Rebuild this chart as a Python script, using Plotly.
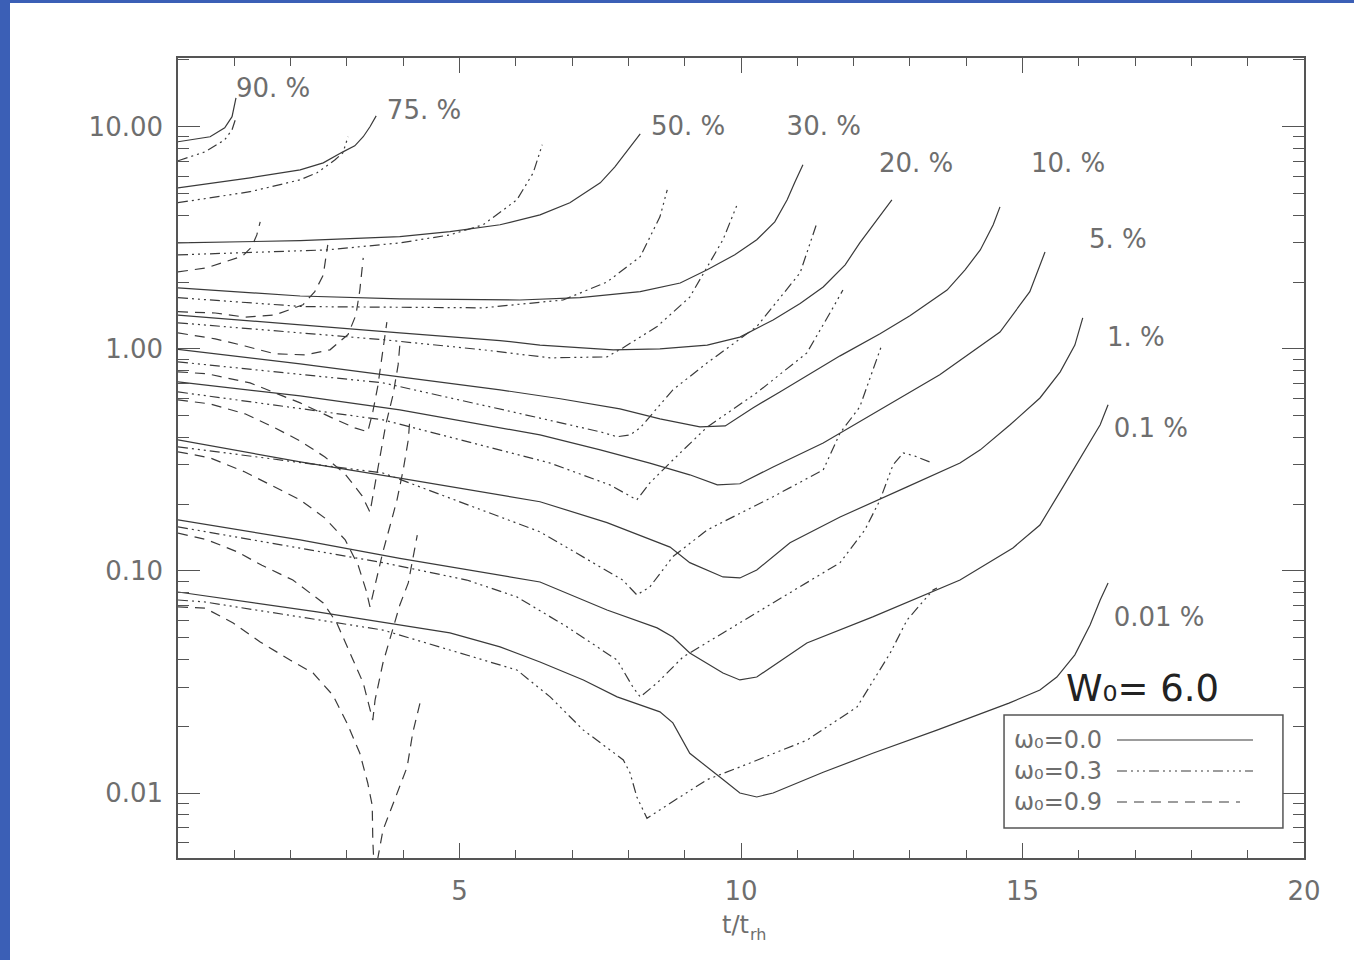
import math
import plotly.graph_objects as go

# ---------------- data: Lagrangian radii vs t/t_rh ----------------
# omega0 = 0.0 (solid)
S90_t = [0, 0.57, 0.83, 0.96, 1.03]
S90_r = [8.56, 9.02, 9.9, 11.1, 13.5]
S75_t = [0, 1.28, 2.17, 2.58, 2.93, 3.14, 3.29, 3.41, 3.52]
S75_r = [5.31, 5.89, 6.40, 6.88, 7.71, 8.21, 9.02, 10.0, 11.2]
S50_t = [0, 2.17, 3.94, 4.83, 5.72, 6.43, 6.96, 7.50, 7.76, 7.99, 8.21]
S50_r = [3.00, 3.07, 3.20, 3.37, 3.62, 4.01, 4.55, 5.59, 6.60, 7.88, 9.30]
S30_t = [0, 2.17, 3.94, 6.07, 7.14, 8.21, 8.92, 9.40, 9.89, 10.28, 10.60, 10.82, 10.96, 11.10]
S30_r = [1.88, 1.73, 1.68, 1.66, 1.70, 1.81, 1.98, 2.27, 2.65, 3.10, 3.73, 4.69, 5.65, 6.74]
S20_t = [0, 2.17, 3.94, 5.72, 6.43, 7.73, 8.56, 9.40, 9.98, 10.57, 11.05, 11.46, 11.85, 12.11, 12.38, 12.68]
S20_r = [1.42, 1.28, 1.18, 1.09, 1.04, 0.99, 1.00, 1.04, 1.13, 1.35, 1.60, 1.90, 2.39, 3.00, 3.73, 4.69]
S10_t = [0, 2.17, 3.94, 5.72, 6.79, 7.85, 8.56, 9.27, 9.72, 10.21, 10.69, 11.17, 11.76, 12.47, 13.00,
         13.66, 13.98, 14.25, 14.48, 14.60]
S10_r = [0.995, 0.856, 0.748, 0.654, 0.596, 0.537, 0.484, 0.445, 0.450, 0.542, 0.640, 0.756, 0.930, 1.17,
         1.41, 1.84, 2.27, 2.79, 3.62, 4.36]
S5_t = [0, 2.17, 3.94, 6.43, 7.50, 8.38, 9.09, 9.58, 9.98, 10.57, 11.46, 12.47, 13.53, 14.60, 15.13, 15.40]
S5_r = [0.710, 0.614, 0.531, 0.410, 0.351, 0.306, 0.271, 0.244, 0.247, 0.294, 0.377, 0.531, 0.764, 1.19,
        1.81, 2.73]
S1_t = [0, 2.17, 3.94, 6.43, 7.62, 8.74, 9.09, 9.68, 9.98, 10.28, 10.87, 11.76, 12.95, 13.89, 14.25,
        14.78, 15.31, 15.67, 15.93, 16.07]
S1_r = [0.389, 0.310, 0.262, 0.205, 0.165, 0.128, 0.109, 0.094, 0.093, 0.101, 0.134, 0.175, 0.239, 0.306,
        0.351, 0.455, 0.601, 0.788, 1.04, 1.38]
S01_t = [0, 2.17, 3.94, 6.43, 7.62, 8.51, 8.79, 9.09, 9.68, 9.98, 10.28, 11.17, 12.34, 13.89, 14.83,
         15.31, 15.72, 16.11, 16.38, 16.52]
S01_r = [0.170, 0.138, 0.114, 0.0892, 0.0667, 0.0554, 0.0504, 0.0427, 0.0347, 0.0323, 0.0333, 0.0474,
         0.0621, 0.091, 0.127, 0.161, 0.239, 0.351, 0.455, 0.560]
S001_t = [0, 2.47, 4.83, 5.72, 6.43, 7.20, 7.80, 8.33, 8.56, 8.79, 9.09, 9.68, 9.98, 10.28, 10.57, 11.46,
          12.34, 13.48, 14.76, 15.31, 15.61, 15.93, 16.20, 16.38, 16.52]
S001_r = [0.0804, 0.0654, 0.0526, 0.0455, 0.0389, 0.0323, 0.0271, 0.0242, 0.0232, 0.0207, 0.0151, 0.0115,
          0.0100, 0.0096, 0.0100, 0.0124, 0.0151, 0.0192, 0.0254, 0.0291, 0.0333, 0.0419, 0.0571, 0.074,
          0.0883]

# omega0 = 0.3 (dash-dot-dot-dot)
D90_t = [0, 0.48, 0.83, 0.96, 1.03]
D90_r = [7.03, 7.71, 8.74, 9.69, 11.0]
D75_t = [0, 1.28, 2.17, 2.47, 2.79, 2.93, 3.02]
D75_r = [4.55, 5.10, 5.77, 6.21, 7.10, 7.64, 9.02]
D50_t = [0, 2.65, 3.94, 4.83, 5.42, 6.02, 6.31, 6.47]
D50_r = [2.65, 2.79, 3.00, 3.26, 3.62, 4.69, 6.21, 8.30]
D30_t = [0, 2.22, 5.42, 6.84, 7.62, 8.21, 8.56, 8.69]
D30_r = [1.70, 1.55, 1.53, 1.66, 2.00, 2.60, 3.93, 5.20]
D20_t = [0, 3.64, 5.42, 6.61, 7.62, 7.90, 8.51, 9.09, 9.68, 9.93]
D20_r = [1.31, 1.10, 0.99, 0.911, 0.920, 1.01, 1.26, 1.71, 3.10, 4.45]
D10_t = [0, 3.64, 6.02, 7.50, 7.80, 8.03, 8.21, 8.79, 9.40, 10.28, 11.05, 11.35]
D10_r = [0.874, 0.703, 0.515, 0.423, 0.402, 0.410, 0.441, 0.654, 0.865, 1.26, 2.20, 3.70]
D5_t = [0, 3.64, 6.61, 7.67, 8.15, 8.38, 8.79, 9.40, 10.28, 11.17, 11.58, 11.81]
D5_r = [0.640, 0.479, 0.306, 0.244, 0.209, 0.249, 0.316, 0.445, 0.634, 0.959, 1.45, 1.84]
D1_t = [0, 3.64, 6.43, 7.90, 8.15, 8.38, 8.79, 9.40, 10.57, 11.46, 11.76, 12.11, 12.50]
D1_r = [0.362, 0.276, 0.150, 0.091, 0.078, 0.0847, 0.116, 0.153, 0.216, 0.285, 0.418, 0.548, 1.04]
D01_t = [0, 3.64, 5.13, 6.02, 6.91, 7.80, 8.08, 8.21, 8.51, 8.97, 9.68, 10.87, 11.76, 12.20, 12.47,
         12.70, 12.88, 13.09, 13.36]
D01_r = [0.158, 0.109, 0.091, 0.0764, 0.0560, 0.0397, 0.0300, 0.0271, 0.0313, 0.0410, 0.0526, 0.0796,
         0.109, 0.153, 0.209, 0.300, 0.340, 0.329, 0.309]
D001_t = [0, 0.48, 3.64, 4.83, 6.02, 6.61, 7.20, 7.91, 8.03, 8.15, 8.33, 8.83, 9.40, 9.98, 11.17, 12.06,
          12.65, 12.95, 13.41, 13.48]
D001_r = [0.074, 0.0725, 0.0542, 0.0441, 0.0358, 0.0271, 0.0192, 0.0141, 0.0123, 0.0096, 0.0077, 0.0093,
          0.0115, 0.0131, 0.0173, 0.0244, 0.0427, 0.0602, 0.082, 0.0838]

# omega0 = 0.9 (dashed)
E50_t = [0, 0.52, 1.15, 1.31, 1.40, 1.46]
E50_r = [2.22, 2.32, 2.62, 2.88, 3.26, 3.73]
E30_t = [0, 0.66, 1.19, 1.72, 2.22, 2.43, 2.58, 2.66]
E30_r = [1.47, 1.45, 1.39, 1.42, 1.58, 1.81, 2.15, 2.94]
E20_t = [0, 0.66, 1.19, 1.72, 2.26, 2.70, 3.02, 3.16, 3.23, 3.29]
E20_r = [1.18, 1.11, 1.03, 0.95, 0.94, 0.99, 1.16, 1.42, 1.84, 2.57]
E10_t = [0, 0.52, 1.28, 2.17, 2.70, 3.14, 3.37, 3.46, 3.55, 3.62, 3.68, 3.71]
E10_r = [0.788, 0.772, 0.703, 0.571, 0.494, 0.441, 0.423, 0.520, 0.681, 0.892, 1.12, 1.32]
E5_t = [0, 0.57, 1.19, 1.72, 2.17, 2.61, 2.97, 3.27, 3.41, 3.50, 3.59, 3.69, 3.82, 3.91, 3.94]
E5_r = [0.589, 0.565, 0.510, 0.441, 0.385, 0.326, 0.273, 0.218, 0.184, 0.244, 0.323, 0.455, 0.621, 0.847,
        1.04]
E1_t = [0, 0.57, 1.19, 1.72, 2.17, 2.61, 2.97, 3.20, 3.34, 3.41, 3.52, 3.64, 3.77, 3.89, 4.00, 4.09, 4.12]
E1_r = [0.344, 0.323, 0.279, 0.239, 0.209, 0.173, 0.138, 0.106, 0.082, 0.0689, 0.091, 0.122, 0.161,
        0.209, 0.285, 0.389, 0.489]
E01_t = [0, 0.52, 1.05, 1.49, 2.04, 2.58, 2.82, 3.06, 3.29, 3.46, 3.50, 3.64, 3.82, 3.94, 4.09, 4.17, 4.25]
E01_r = [0.148, 0.138, 0.122, 0.106, 0.091, 0.0718, 0.0583, 0.0427, 0.0313, 0.0213, 0.0262, 0.0385,
         0.0560, 0.0703, 0.0883, 0.112, 0.145]
E001_t = [0, 0.48, 0.98, 1.46, 1.99, 2.40, 2.75, 3.00, 3.23, 3.37, 3.45, 3.46, 3.50, 3.55, 3.64, 3.89,
          4.07, 4.17, 4.30]
E001_r = [0.0689, 0.0680, 0.0583, 0.0479, 0.0397, 0.0347, 0.0276, 0.0207, 0.0151, 0.0111, 0.0088, 0.0061,
          0.0038, 0.0051, 0.0068, 0.0100, 0.0131, 0.0187, 0.0255]

# curve labels (mass fractions) and where they are written
mass_labels = ["90. %", "75. %", "50. %", "30. %", "20. %", "10. %", "5. %", "1. %", "0.1 %", "0.01 %"]
label_t = [1.03, 3.71, 8.40, 10.81, 12.45, 15.15, 16.18, 16.50, 16.62, 16.62]
label_r = [14.6, 11.6, 9.8, 9.8, 6.68, 6.68, 3.04, 1.10, 0.428, 0.0603]

model_names = ["ω₀=0.0", "ω₀=0.3", "ω₀=0.9"]

x_tick_vals = [5, 10, 15, 20]
y_tick_vals = [0.01, 0.1, 1, 10]
y_tick_text = ["0.01", "0.10", "1.00", "10.00"]

# ---------------- styling ----------------
LINE_COLOR = "#3a3a3a"
AXIS_COLOR = "#555555"
TEXT_COLOR = "#6e6e6e"
FONT = "DejaVu Sans"
DASH_STYLES = ["solid", "10px,4px,2px,4px,2px,4px,2px,4px", "10px,7px"]

solid = [(S90_t, S90_r), (S75_t, S75_r), (S50_t, S50_r), (S30_t, S30_r), (S20_t, S20_r),
         (S10_t, S10_r), (S5_t, S5_r), (S1_t, S1_r), (S01_t, S01_r), (S001_t, S001_r)]
dashdot = [(D90_t, D90_r), (D75_t, D75_r), (D50_t, D50_r), (D30_t, D30_r), (D20_t, D20_r),
           (D10_t, D10_r), (D5_t, D5_r), (D1_t, D1_r), (D01_t, D01_r), (D001_t, D001_r)]
dashed = [(E50_t, E50_r), (E30_t, E30_r), (E20_t, E20_r), (E10_t, E10_r), (E5_t, E5_r),
          (E1_t, E1_r), (E01_t, E01_r), (E001_t, E001_r)]

fig = go.Figure()
for group, dash, name in zip([solid, dashdot, dashed], DASH_STYLES, model_names):
    for t, r in group:
        fig.add_trace(go.Scatter(x=t, y=r, mode="lines", name=name, showlegend=False,
                                 hoverinfo="skip",
                                 line=dict(color=LINE_COLOR, width=1.2, dash=dash)))

# mass-fraction labels as a text trace
fig.add_trace(go.Scatter(x=label_t, y=label_r, mode="text", text=mass_labels,
                         textposition="middle right", showlegend=False, hoverinfo="skip",
                         textfont=dict(family=FONT, size=26, color=TEXT_COLOR)))

# minor log ticks
minor_y = []
for dec in [0.001, 0.01, 0.1, 1, 10]:
    for k in range(2, 10):
        minor_y.append(round(k * dec, 6))

fig.update_layout(
    width=1354, height=960,
    margin=dict(l=178, r=50, t=58, b=102),
    paper_bgcolor="white", plot_bgcolor="white",
    showlegend=False,
    font=dict(family=FONT, color=TEXT_COLOR, size=26),
)
fig.update_xaxes(
    range=[0, 20], tickmode="array", tickvals=x_tick_vals,
    ticks="inside", ticklen=15, tickwidth=1.2, tickcolor=AXIS_COLOR,
    showline=True, linecolor=AXIS_COLOR, linewidth=1.5, mirror="ticks",
    showgrid=False, zeroline=False,
    minor=dict(tickmode="linear", tick0=0, dtick=1, ticks="inside", ticklen=8,
               tickwidth=1.2, tickcolor=AXIS_COLOR, showgrid=False),
    tickfont=dict(family=FONT, size=26, color=TEXT_COLOR),
    ticklabelstandoff=9,
)
fig.update_yaxes(
    type="log", range=[math.log10(0.0051), math.log10(20.4)],
    tickmode="array", tickvals=y_tick_vals, ticktext=y_tick_text,
    ticks="inside", ticklen=22, tickwidth=1.2, tickcolor=AXIS_COLOR,
    showline=True, linecolor=AXIS_COLOR, linewidth=1.5, mirror="ticks",
    showgrid=False, zeroline=False,
    minor=dict(tickmode="array", tickvals=minor_y, ticks="inside", ticklen=11,
               tickwidth=1.2, tickcolor=AXIS_COLOR, showgrid=False),
    tickfont=dict(family=FONT, size=26, color=TEXT_COLOR),
    ticklabelstandoff=8,
)

annotations = []
# x-axis title: "t/t" with a lowered, smaller "rh"
annotations.append(dict(x=0.508, y=-0.084, xref="paper", yref="paper", text="t/t",
                        showarrow=False, xanchor="right", yanchor="middle", borderpad=0,
                        font=dict(family=FONT, size=24, color=TEXT_COLOR)))
annotations.append(dict(x=0.5075, y=-0.095, xref="paper", yref="paper", text="rh",
                        showarrow=False, xanchor="left", yanchor="middle", borderpad=0,
                        font=dict(family=FONT, size=16, color=TEXT_COLOR)))
# W0 label
annotations.append(dict(x=0.787, y=0.2125, xref="paper", yref="paper", text="W₀= 6.0",
                        showarrow=False, xanchor="left", yanchor="middle",
                        font=dict(family=FONT, size=37, color="#222222")))

# custom legend (text first, line sample after)
leg_y = [0.1475, 0.10875, 0.07]
leg_x1 = [0.9547, 0.9547, 0.9432]
shapes = [
    # blue frame strips
    dict(type="rect", xref="paper", yref="paper", x0=-0.1581, x1=-0.1492, y0=-0.1275, y1=1.0725,
         fillcolor="#3b5fb6", line=dict(width=0), layer="above"),
    dict(type="rect", xref="paper", yref="paper", x0=-0.1581, x1=1.0444, y0=1.0688, y1=1.0725,
         fillcolor="#3b5fb6", line=dict(width=0), layer="above"),
    # legend box
    dict(type="rect", xref="paper", yref="paper", x0=0.7336, x1=0.9813, y0=0.0375, y1=0.17875,
         fillcolor="white", line=dict(color="#555555", width=1.5), layer="above"),
]
for name, yy, x1, dash in zip(model_names, leg_y, leg_x1, DASH_STYLES):
    shapes.append(dict(type="line", xref="paper", yref="paper", x0=0.8339, x1=x1, y0=yy, y1=yy,
                       line=dict(color=LINE_COLOR, width=1.2, dash=dash), layer="above"))
    annotations.append(dict(x=0.7407, y=yy, xref="paper", yref="paper", text=name,
                            showarrow=False, xanchor="left", yanchor="middle",
                            font=dict(family=FONT, size=24, color=TEXT_COLOR)))

fig.update_layout(annotations=annotations, shapes=shapes)

fig.write_html("out.html")
